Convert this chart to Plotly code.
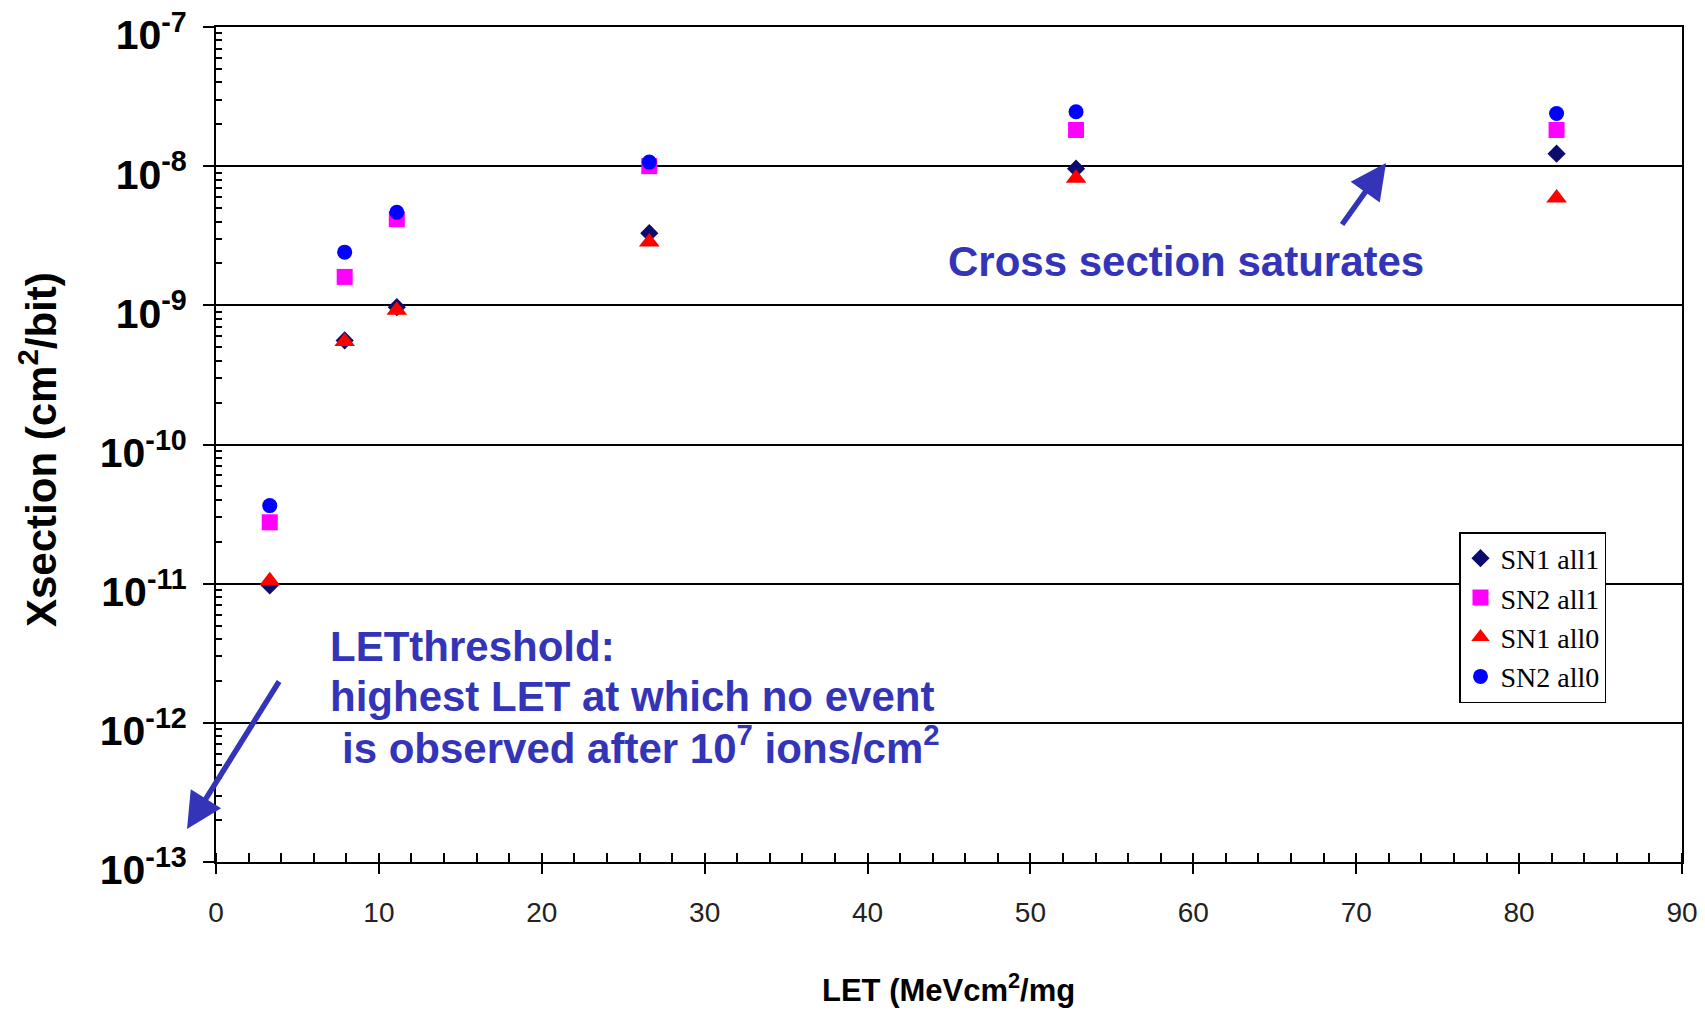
import plotly.graph_objects as go

# LET values of the ion runs (MeV cm^2/mg)
let_values = [3.3, 7.9, 11.1, 26.6, 52.8, 82.3]

# Measured cross sections (cm^2/bit)
sn1_all1 = [9.7e-12, 5.6e-10, 9.7e-10, 3.3e-9, 9.6e-9, 1.23e-8]
sn2_all1 = [2.76e-11, 1.60e-9, 4.16e-9, 1.0e-8, 1.82e-8, 1.82e-8]
sn1_all0 = [1.05e-11, 5.5e-10, 9.2e-10, 2.85e-9, 8.2e-9, 5.9e-9]
sn2_all0 = [3.64e-11, 2.41e-9, 4.67e-9, 1.07e-8, 2.46e-8, 2.39e-8]

series_names = ["SN1 all1", "SN2 all1", "SN1 all0", "SN2 all0"]

# Decade ticks of the y axis
y_exponents = [-13, -12, -11, -10, -9, -8, -7]
y_tick_vals = [10.0 ** e for e in y_exponents]
y_tick_text = ["<b>10<sup>%d</sup></b>" % e for e in y_exponents]
y_minor_vals = [m * 10.0 ** e for e in y_exponents[:-1] for m in range(2, 10)]

x_tick_vals = list(range(0, 91, 10))

TEXT_BLUE = "#3434b8"
SANS = "Liberation Sans, Arial, sans-serif"

# plot area in pixels
L, R, T, B = 216, 1682, 27, 862
W, H = 1705, 1013


def px(x):
    return (x - L) / (R - L)


def py(y):
    return (B - y) / (B - T)


fig = go.Figure()

styles = [
    dict(symbol="diamond", color="#0c0c6e", size=14),
    dict(symbol="square", color="#ff00ff", size=16),
    dict(symbol="triangle-up", color="#ff0000", size=18),
    dict(symbol="circle", color="#0000ff", size=15),
]
for name, ys, st in zip(series_names, [sn1_all1, sn2_all1, sn1_all0, sn2_all0], styles):
    fig.add_trace(go.Scatter(
        x=let_values, y=ys, mode="markers", name=name,
        marker=dict(symbol=st["symbol"], color=st["color"], size=st["size"],
                    line=dict(width=0)),
        cliponaxis=False,
    ))

fig.update_layout(
    width=W, height=H,
    margin=dict(l=L, r=W - R, t=T, b=H - B),
    paper_bgcolor="white", plot_bgcolor="white",
    font=dict(family=SANS, color="black"),
    showlegend=True,
    legend=dict(
        x=px(1459), y=py(532),
        xanchor="left", yanchor="top",
        bgcolor="white", bordercolor="black", borderwidth=1.5,
        font=dict(family="Liberation Serif, Times New Roman, serif", size=28, color="black"),
        tracegroupgap=0, itemwidth=30,
    ),
    xaxis=dict(
        range=[0, 90], tickmode="array", tickvals=x_tick_vals,
        automargin=False,
        ticks="outside", ticklen=10, tickwidth=1.5, tickcolor="black",
        showline=True, linecolor="black", linewidth=2, mirror=True,
        showgrid=False, zeroline=False,
        tickfont=dict(family=SANS, size=28, color="#222222"),
        ticklabelstandoff=14,
        minor=dict(ticks="inside", ticklen=9, tickwidth=1.5, tickcolor="black",
                   dtick=2, tick0=0, showgrid=False),
    ),
    yaxis=dict(
        type="log", range=[-13, -7],
        automargin=False,
        tickmode="array", tickvals=y_tick_vals, ticktext=y_tick_text,
        ticks="outside", ticklen=11, tickwidth=1.5, tickcolor="black",
        showline=True, linecolor="black", linewidth=2, mirror=True,
        showgrid=True, gridcolor="black", gridwidth=2,
        zeroline=False,
        tickfont=dict(family=SANS, size=41, color="black"),
        ticklabelstandoff=8, ticklabelshift=8, ticklabeloverflow="allow",
        minor=dict(tickmode="array", tickvals=y_minor_vals, ticks="inside",
                   ticklen=6, tickwidth=1.5, tickcolor="black", showgrid=False),
    ),
)

# Axis titles
fig.add_annotation(
    xref="paper", yref="paper", x=px(38), y=py(450),
    text="<b>Xsection (cm<sup>2</sup>/bit)</b>", textangle=-90, showarrow=False,
    xanchor="center", yanchor="middle",
    font=dict(family=SANS, size=42, color="black"),
)
fig.add_annotation(
    xref="paper", yref="paper", x=px(948), y=py(988),
    text="<b>LET (MeVcm<sup>2</sup>/mg</b>", showarrow=False,
    xanchor="center", yanchor="middle",
    font=dict(family=SANS, size=31, color="black"),
)

# Saturation note with its arrow
fig.add_annotation(
    xref="paper", yref="paper", x=px(1186), y=py(261),
    text="<b>Cross section saturates</b>", showarrow=False,
    font=dict(family=SANS, size=42, color=TEXT_BLUE),
    xanchor="center", yanchor="middle",
)
fig.add_annotation(
    xref="paper", yref="paper", x=px(1386), y=py(163),
    ax=-45, ay=63, text="", showarrow=True,
    arrowhead=2, arrowsize=1.3, arrowwidth=5.5, arrowcolor=TEXT_BLUE,
)

# Threshold note with its arrow
threshold_lines = [
    ("<b>LETthreshold:</b>", 328, 646),
    ("<b>highest LET at which no event</b>", 328, 696),
    ("<b>is observed after 10<sup>7</sup> ions/cm<sup>2</sup></b>", 340, 745),
]
for txt, tx, ty in threshold_lines:
    fig.add_annotation(
        xref="paper", yref="paper", x=px(tx), y=py(ty),
        text=txt, showarrow=False, xanchor="left", yanchor="middle",
        font=dict(family=SANS, size=42, color=TEXT_BLUE),
    )
fig.add_annotation(
    xref="paper", yref="paper", x=px(187), y=py(829),
    ax=93, ay=-149, text="", showarrow=True,
    arrowhead=2, arrowsize=1.3, arrowwidth=5.5, arrowcolor=TEXT_BLUE,
)

fig.write_html("out.html")
